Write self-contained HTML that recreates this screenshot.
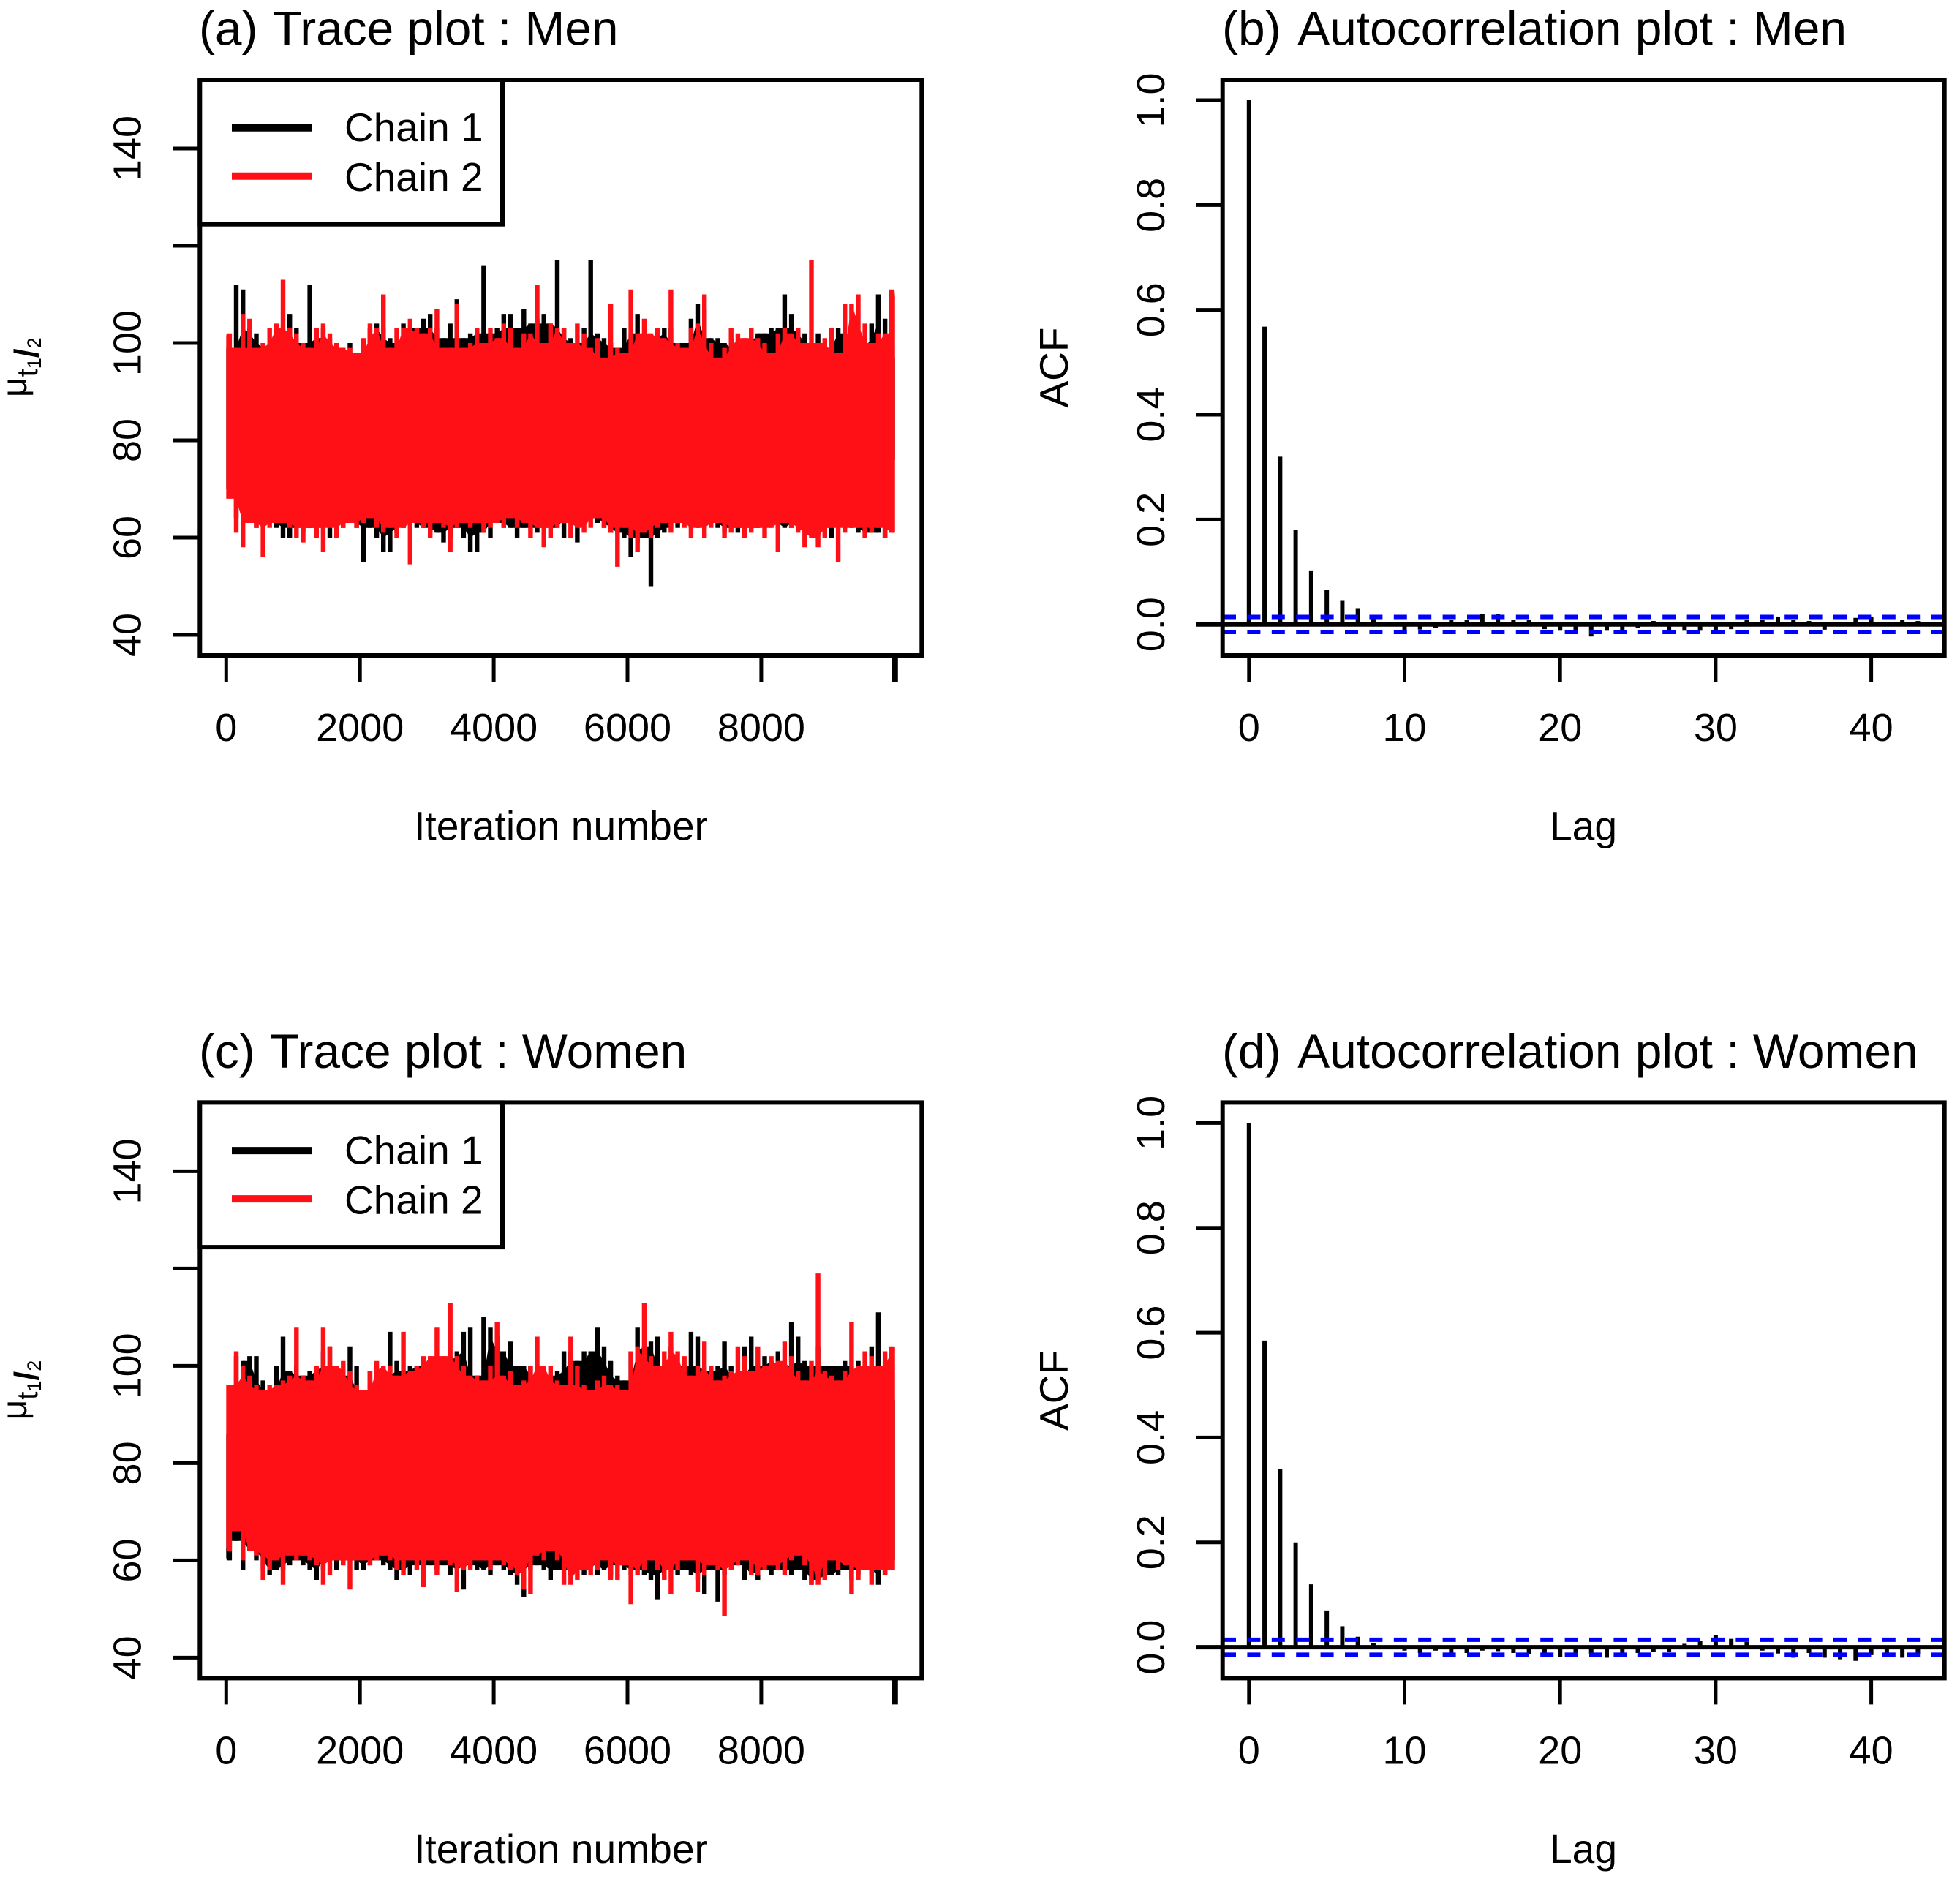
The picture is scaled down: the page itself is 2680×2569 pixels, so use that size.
<!DOCTYPE html>
<html lang="en">
<head>
<meta charset="utf-8">
<title>MCMC trace and autocorrelation plots</title>
<style>
html,body{margin:0;padding:0;background:#fff;}
#figure{display:block;position:absolute;left:0;top:0;}
text{font-family:"Liberation Sans",Helvetica,Arial,sans-serif;fill:#000;}
</style>
</head>
<body>
<svg id="figure" xmlns="http://www.w3.org/2000/svg" width="2680" height="2569" viewBox="0 0 2680 2569"></svg>
<script>
const traceTickValues = [0, 2000, 4000, 6000, 8000, 10000];
const traceTickLabels = ["0", "2000", "4000", "6000", "8000", ""];
const traceYTickValues = [40, 60, 80, 100, 120, 140];
const traceYTickLabels = ["40", "60", "80", "100", "", "140"];
const lagTickValues = [0, 10, 20, 30, 40];
const lagTickLabels = ["0", "10", "20", "30", "40"];
const acfTickValues = [0, 0.2, 0.4, 0.6, 0.8, 1];
const acfTickLabels = ["0.0", "0.2", "0.4", "0.6", "0.8", "1.0"];
const acfConfidence = 0.0143;
const iterationsPerBin = 100;

const menChain1High = [99,112,111,103,102,100,99,100,102,106,103,100,112,101,103,101,99,99,100,96,100,103,104,103,101,100,104,103,103,105,106,103,101,104,109,101,102,103,116,102,103,106,106,103,107,104,105,106,104,117,103,101,100,103,117,102,101,100,99,103,102,106,102,101,102,103,103,100,100,105,108,107,101,101,100,101,99,100,103,102,102,103,103,110,106,103,102,100,102,99,102,103,102,103,99,101,104,110,105,97];
const menChain1Low = [70,64,63,63,62,63,63,62,60,60,62,61,62,60,62,60,63,62,63,62,55,62,60,57,57,61,62,63,62,62,61,61,59,60,62,60,57,57,61,60,63,62,62,60,62,62,61,60,62,62,60,64,59,63,64,63,62,61,61,60,56,59,60,50,60,61,62,62,65,62,62,62,63,62,61,62,61,62,62,62,62,63,62,62,62,63,62,62,61,62,60,62,64,62,61,61,61,61,60,76];
const menChain2High = [102,99,106,105,99,100,103,104,113,103,102,100,99,103,104,102,100,99,99,98,101,104,103,110,99,103,103,105,103,102,103,107,99,99,108,99,100,103,100,103,101,104,103,99,102,102,112,100,104,103,103,100,104,102,99,101,97,108,99,98,111,102,105,102,103,101,111,100,99,103,104,110,100,97,99,103,102,101,103,101,100,98,102,103,102,103,100,117,100,101,103,98,108,108,110,104,100,102,102,111];
const menChain2Low = [68,61,58,63,62,56,62,63,63,62,60,59,62,60,57,62,60,62,63,62,63,64,62,61,62,60,62,54.5,63,62,60,63,62,57,62,63,62,63,61,62,63,62,64,62,63,60,62,58,60,62,63,60,62,61,62,64,62,61,54,62,60,57,61,60,62,63,61,63,62,60,62,60,62,63,60,61,62,60,61,62,60,62,57,63,62,61,58,60,58,60,62,55,61,62,62,60,61,62,60,61];

const womenChain1High = [86,102,101,102,102,97,95,100,106,99,100,98,99,100,103,104,100,98,104,100,95,99,97,98,107,101,99,100,100,100,101,100,101,102,103,107,108,98,110,108,106,103,105,100,100,100,98,100,98,99,103,103,101,103,103,108,104,101,98,97,103,108,104,105,106,100,104,100,100,107,106,100,99,100,105,100,98,104,106,100,102,101,103,100,109,106,101,100,104,100,100,100,101,100,101,98,104,111,99,93];
const womenChain1Low = [60,64,58,62,60,58,57,58,58,59,60,59,58,56,58,60,58,59,60,58,58,59,60,59,58,56,58,57,59,58,59,58,59,57,58,54,59,58,58,57,59,58,57,55,52.5,58,59,58,56,58,58,57,58,57,59,57,58,57,59,58,57,58,57,56,52,57,58,57,58,57,56,53,58,51.5,57,58,59,56,57,56,58,57,58,58,57,58,56,55,56,56,57,57,58,56,57,58,57,55,57,60];
const womenChain2High = [96,103,100,98,96,95,96,96,97,98,108,98,97,100,108,104,100,101,99,96,95,99,101,100,100,98,107,99,100,102,102,108,102,113,102,100,98,98,97,100,109,98,99,96,97,100,106,100,100,97,96,106,100,96,95,97,98,96,96,95,103,104,113,102,100,103,107,103,102,98,100,105,100,97,98,99,104,102,99,104,100,102,101,105,102,99,97,101,119,99,98,97,99,109,100,103,102,100,103,104];
const womenChain2Low = [62,66,60,62,61,56,58,60,55,61,60,61,60,59,55,57,60,59,54,60,60,59,60,61,60,58,57,60,58,54.5,60,57,60,59,53.5,58,58,60,60,58,60,59,58,57,54,53,61,60,62,60,55,55,56,58,57,58,60,56,56,59,51,57,58,60,58,56,53,58,60,60,53.5,57,59,58,48.5,58,59,60,57,57,58,59,58,57,60,61,59,55,55,56,60,58,59,53,56,58,55,58,57,58];

const menAcf = [1,0.568,0.32,0.181,0.103,0.0656,0.045,0.031,0.01,0.001,-0.0107,-0.0098,-0.007,0.009,0.009,0.02,0.02,0.008,0.009,-0.009,-0.012,-0.013,-0.023,-0.012,-0.013,-0.007,0.0065,-0.011,-0.012,-0.012,-0.011,-0.009,0.008,0.009,0.015,0.009,0.0065,-0.01,0.001,0.0125,0.015,0,0.008,0.0065];
const womenAcf = [1,0.585,0.34,0.2,0.12,0.07,0.04,0.02,0.008,0,-0.0065,-0.011,-0.0065,-0.011,-0.011,-0.0065,-0.0075,-0.011,-0.0125,-0.013,-0.018,-0.018,-0.013,-0.02,-0.015,-0.011,-0.009,-0.009,0.0065,0.0125,0.023,0.016,0.01,-0.0065,-0.012,-0.02,-0.011,-0.02,-0.023,-0.026,-0.015,-0.011,-0.02,-0.014];

const svgNS = "http://www.w3.org/2000/svg";
const root = document.getElementById("figure");
const rowOffset = 1398.4;
const redColor = "#ff1016";

function xTrace(v) { return 309.3 + v * 0.09145; }
function yTrace(v) { return 868 - (v - 40) * 6.65; }
function xLag(v) { return 1707.8 + v * 21.27; }
function yAcf(v) { return 853.7 - v * 716.7; }

function makeGroup(parent, name) {
  const g = document.createElementNS(svgNS, "g");
  
  
  parent.appendChild(g);
  return g;
}
function drawLine(parent, name, x1, y1, x2, y2, width, color, dash) {
  const l = document.createElementNS(svgNS, "line");
  
  
  l.setAttribute("x1", x1);
  l.setAttribute("y1", y1);
  l.setAttribute("x2", x2);
  l.setAttribute("y2", y2);
  l.setAttribute("stroke", color || "#000");
  l.setAttribute("stroke-width", width);
  if (dash) l.setAttribute("stroke-dasharray", dash);
  parent.appendChild(l);
  return l;
}
function drawText(parent, name, str, x, y, size, anchor, rotate) {
  const t = document.createElementNS(svgNS, "text");
  
  
  t.setAttribute("x", x);
  t.setAttribute("y", y);
  t.setAttribute("font-size", size);
  t.setAttribute("text-anchor", anchor || "start");
  if (rotate) t.setAttribute("transform", "rotate(-90 " + x + " " + y + ")");
  t.textContent = str;
  parent.appendChild(t);
  return t;
}
function drawTitle(parent, prefix, rest, x, y, size, gap) {
  const t = document.createElementNS(svgNS, "text");
  
  
  t.setAttribute("x", x);
  t.setAttribute("y", y);
  t.setAttribute("font-size", size);
  t.appendChild(document.createTextNode(prefix + " "));
  const s = document.createElementNS(svgNS, "tspan");
  s.setAttribute("dx", gap);
  s.textContent = rest;
  t.appendChild(s);
  parent.appendChild(t);
}
function drawBox(parent, name, x, y, w, h, fill) {
  const r = document.createElementNS(svgNS, "rect");
  
  
  r.setAttribute("x", x);
  r.setAttribute("y", y);
  r.setAttribute("width", w);
  r.setAttribute("height", h);
  r.setAttribute("fill", fill);
  r.setAttribute("stroke", "#000");
  r.setAttribute("stroke-width", 6);
  parent.appendChild(r);
  return r;
}
function drawChain(parent, name, highs, lows, color, dy) {
  const n = highs.length;
  const top = [];
  const bottom = [];
  let spikes = "";
  for (let i = 0; i < n; i++) {
    const x = xTrace((i + 0.5) * iterationsPerBin);
    const a = Math.max(i - 1, 0);
    const b = Math.min(i + 1, n - 1);
    const coreHigh = Math.min(highs[a], highs[i], highs[b]);
    const coreLow = Math.max(lows[a], lows[i], lows[b]);
    top.push(x.toFixed(1) + "," + (yTrace(coreHigh) + dy).toFixed(1));
    bottom.unshift(x.toFixed(1) + "," + (yTrace(coreLow) + dy).toFixed(1));
    spikes += "M" + x.toFixed(1) + " " + (yTrace(highs[i]) + dy).toFixed(1) + "V" + (yTrace(lows[i]) + dy).toFixed(1);
  }
  const g = makeGroup(parent, name);
  const startX = xTrace(0).toFixed(1);
  const endX = xTrace(n * iterationsPerBin).toFixed(1);
  const firstTop = startX + "," + (yTrace(highs[0]) + dy).toFixed(1);
  const firstBottom = startX + "," + (yTrace(lows[0]) + dy).toFixed(1);
  const lastTop = endX + "," + (yTrace(highs[n - 1]) + dy).toFixed(1);
  const lastBottom = endX + "," + (yTrace(lows[n - 1]) + dy).toFixed(1);
  const body = document.createElementNS(svgNS, "polygon");
  
  
  body.setAttribute("points", [firstTop].concat(top, [lastTop, lastBottom], bottom, [firstBottom]).join(" "));
  body.setAttribute("fill", color);
  g.appendChild(body);
  const p = document.createElementNS(svgNS, "path");
  
  
  p.setAttribute("d", spikes);
  p.setAttribute("fill", "none");
  p.setAttribute("stroke", color);
  p.setAttribute("stroke-width", 6.4);
  g.appendChild(p);
}
function drawMuLabel(parent, dy) {
  const x = 36, y = 543 + dy;
  const t = document.createElementNS(svgNS, "text");
  
  
  t.setAttribute("x", x);
  t.setAttribute("y", y);
  t.setAttribute("font-size", 48);
  t.setAttribute("transform", "rotate(-90 " + x + " " + y + ")");
  const parts = [["\u03BC", 48, 0, "normal"], ["t", 40, 15, "normal"], ["1", 27, 5, "normal"], ["/", 46, -4, "bold"], ["2", 27, 4, "normal"]];
  parts.forEach(function (part) {
    const s = document.createElementNS(svgNS, "tspan");
    s.setAttribute("font-size", part[1]);
    s.setAttribute("dy", part[2]);
    s.setAttribute("font-weight", part[3]);
    s.textContent = part[0];
    t.appendChild(s);
  });
  parent.appendChild(t);
}
function drawTracePanel(name, prefix, rest, c1H, c1L, c2H, c2L, dy) {
  const g = makeGroup(root, name);
  drawTitle(g, prefix, rest, 272, 61.6 + dy, 65.8, 3);
  drawChain(g, "trace-chain-1", c1H, c1L, "#000", dy);
  drawChain(g, "trace-chain-2", c2H, c2L, redColor, dy);
  drawBox(g, "plot-frame", 273.3, 109 + dy, 987, 787, "none");
  traceTickValues.forEach(function (v, i) {
    const x = xTrace(v);
    drawLine(g, "x-tick", x, 896 + dy, x, 932 + dy, v === 10000 ? 8 : 5);
    if (traceTickLabels[i]) drawText(g, "x-tick-label", traceTickLabels[i], x, 1013 + dy, 54, "middle");
  });
  traceYTickValues.forEach(function (v, i) {
    const y = yTrace(v) + dy;
    drawLine(g, "y-tick", 236.5, y, 273, y, 5);
    if (traceYTickLabels[i]) drawText(g, "y-tick-label", traceYTickLabels[i], 192.5, y, 54, "middle", true);
  });
  drawText(g, "x-axis-title", "Iteration number", 767, 1148.6 + dy, 55.2, "middle");
  drawMuLabel(g, dy);
  const lg = makeGroup(g, "legend");
  drawBox(lg, "legend-box", 273.3, 109 + dy, 413.7, 197.7, "#fff");
  drawLine(lg, "legend-line-chain-1", 317, 174.7 + dy, 426, 174.7 + dy, 10, "#000");
  drawLine(lg, "legend-line-chain-2", 317, 240.7 + dy, 426, 240.7 + dy, 10, redColor);
  drawText(lg, "legend-label-chain-1", "Chain 1", 471, 193 + dy, 55);
  drawText(lg, "legend-label-chain-2", "Chain 2", 471, 261 + dy, 55);
}
function drawAcfPanel(name, prefix, rest, acf, dy) {
  const g = makeGroup(root, name);
  drawTitle(g, prefix, rest, 1671, 61.6 + dy, 65.9, 8);
  acf.forEach(function (v, lag) {
    const x = xLag(lag);
    drawLine(g, "acf-bar-lag-" + lag, x, yAcf(0) + dy, x, yAcf(v) + dy, 6);
  });
  drawLine(g, "acf-zero-line", 1636, yAcf(0) + dy, 2659, yAcf(0) + dy, 6);
  drawLine(g, "acf-upper-confidence", 1672, yAcf(acfConfidence) + dy, 2657, yAcf(acfConfidence) + dy, 6, "#0000ff", "18 15.4");
  drawLine(g, "acf-lower-confidence", 1672, yAcf(-acfConfidence) + dy, 2657, yAcf(-acfConfidence) + dy, 6, "#0000ff", "18 15.4");
  drawBox(g, "plot-frame", 1671.7, 109 + dy, 987, 787, "none");
  lagTickValues.forEach(function (v, i) {
    const x = xLag(v);
    drawLine(g, "x-tick", x, 896 + dy, x, 932 + dy, 5);
    drawText(g, "x-tick-label", lagTickLabels[i], x, 1013 + dy, 54, "middle");
  });
  acfTickValues.forEach(function (v, i) {
    const y = yAcf(v) + dy;
    drawLine(g, "y-tick", 1635.5, y, 1671, y, 5);
    drawText(g, "y-tick-label", acfTickLabels[i], 1592, y, 54, "middle", true);
  });
  drawText(g, "x-axis-title", "Lag", 2165, 1148.6 + dy, 55.2, "middle");
  drawText(g, "y-axis-title", "ACF", 1460, 502.5 + dy, 55, "middle", true);
}

drawTracePanel("trace-plot-men", "(a)", "Trace plot : Men", menChain1High, menChain1Low, menChain2High, menChain2Low, 0);
drawAcfPanel("acf-plot-men", "(b)", "Autocorrelation plot : Men", menAcf, 0);
drawTracePanel("trace-plot-women", "(c)", "Trace plot : Women", womenChain1High, womenChain1Low, womenChain2High, womenChain2Low, rowOffset);
drawAcfPanel("acf-plot-women", "(d)", "Autocorrelation plot : Women", womenAcf, rowOffset);
</script>
</body>
</html>
